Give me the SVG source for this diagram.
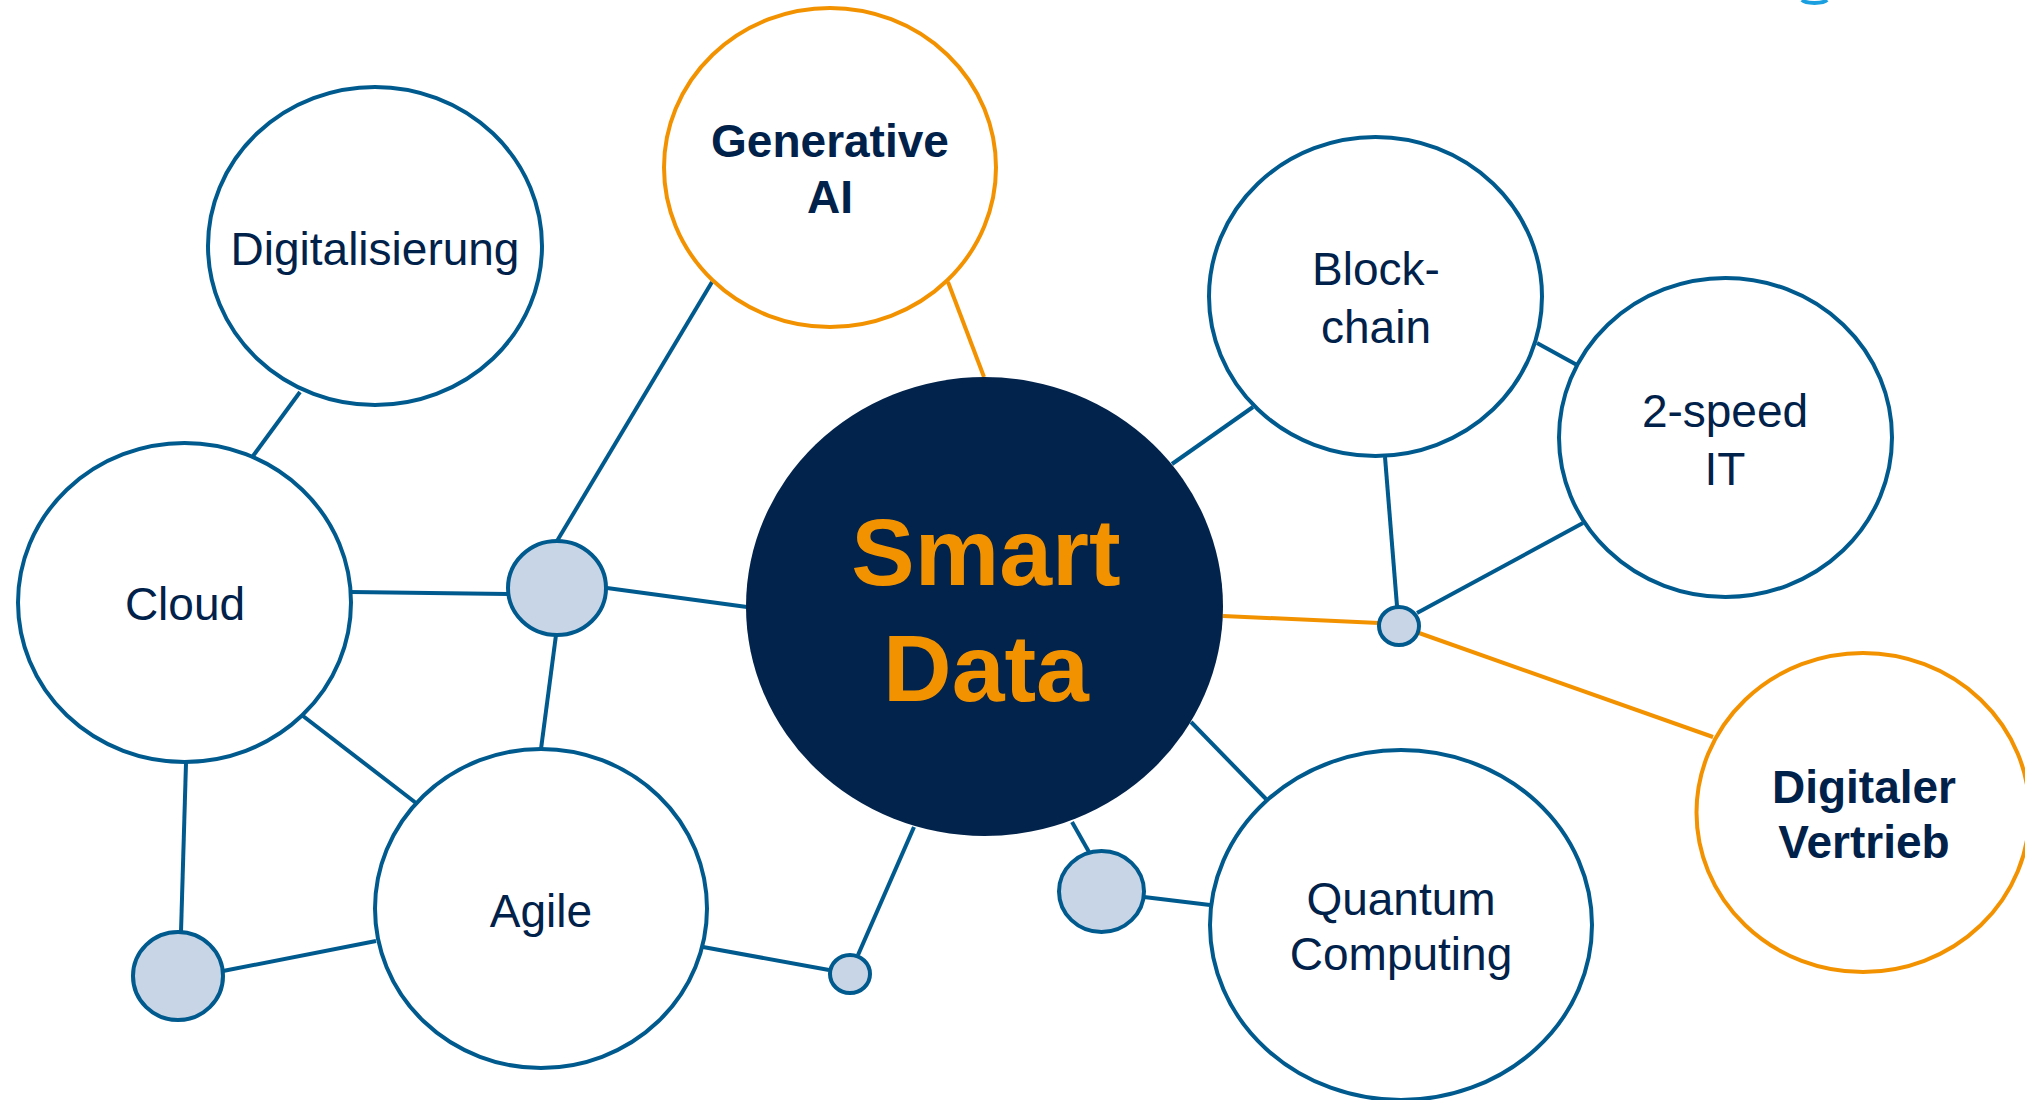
<svg xmlns="http://www.w3.org/2000/svg" width="2025" height="1100" viewBox="0 0 2025 1100">
<style>
.big{fill:#fff;stroke:#005A8E;stroke-width:4}
.org{fill:#fff;stroke:#F39200;stroke-width:4}
.dot{fill:#C8D5E6;stroke:#005A8E;stroke-width:4}
.lb{stroke:#005A8E;stroke-width:4;fill:none}
.lo{stroke:#F39200;stroke-width:4;fill:none}
.t{font-family:"Liberation Sans",Arial,sans-serif;font-size:46px;fill:#00214A;text-anchor:middle}
.tb{font-weight:bold}
.ts{font-family:"Liberation Sans",Arial,sans-serif;font-size:95px;font-weight:bold;fill:#F39200;text-anchor:middle}
</style>
<rect width="2025" height="1100" fill="#fff"/>
<path d="M1802,0 A13,4 0 0 0 1827,0" fill="none" stroke="#1AA0E0" stroke-width="4"/>
<g id="connectors">
<line class="lb" x1="300" y1="392" x2="253" y2="456"/>
<line class="lb" x1="712" y1="282" x2="557" y2="541"/>
<line class="lo" x1="948" y1="282" x2="984" y2="377"/>
<line class="lb" x1="607" y1="588" x2="747" y2="607"/>
<line class="lb" x1="351" y1="592" x2="508" y2="594"/>
<line class="lb" x1="556" y1="635" x2="541" y2="749"/>
<line class="lb" x1="303" y1="716" x2="416" y2="803"/>
<line class="lb" x1="186" y1="763" x2="181" y2="932"/>
<line class="lb" x1="376" y1="941" x2="223" y2="971"/>
<line class="lb" x1="703" y1="947" x2="829" y2="970"/>
<line class="lb" x1="858" y1="955" x2="914" y2="827"/>
<line class="lb" x1="1072" y1="822" x2="1089" y2="852"/>
<line class="lb" x1="1144" y1="897" x2="1210" y2="905"/>
<line class="lb" x1="1191" y1="722" x2="1266" y2="799"/>
<line class="lo" x1="1223" y1="616" x2="1379" y2="623"/>
<line class="lb" x1="1397" y1="606" x2="1385" y2="457"/>
<line class="lb" x1="1417" y1="613" x2="1583" y2="523"/>
<line class="lo" x1="1419" y1="633" x2="1713" y2="737"/>
<line class="lb" x1="1253" y1="407" x2="1172" y2="464"/>
<line class="lb" x1="1537" y1="343" x2="1577" y2="365"/>
</g>
<g id="node-digitalisierung"><ellipse class="big" cx="375" cy="246" rx="167" ry="159"/><text class="t" x="375" y="265">Digitalisierung</text></g>
<g id="node-generative-ai"><ellipse class="org" cx="830" cy="167.5" rx="166" ry="159.5"/><text class="t tb" x="830" y="157">Generative</text><text class="t tb" x="830" y="213">AI</text></g>
<g id="node-blockchain"><ellipse class="big" cx="1375.5" cy="296.5" rx="166.5" ry="159.5"/><text class="t" x="1376" y="285">Block-</text><text class="t" x="1376" y="343">chain</text></g>
<g id="node-2speed"><ellipse class="big" cx="1725.5" cy="437.5" rx="166.5" ry="159.5"/><text class="t" x="1725" y="427">2-speed</text><text class="t" x="1725" y="485">IT</text></g>
<g id="node-cloud"><ellipse class="big" cx="184.5" cy="602.5" rx="166.5" ry="159.5"/><text class="t" x="185" y="620">Cloud</text></g>
<g id="node-smart-data"><ellipse cx="984.5" cy="606.5" rx="238.5" ry="229.5" fill="#02234B"/><text class="ts" x="986" y="585">Smart</text><text class="ts" x="986" y="701">Data</text></g>
<g id="node-agile"><ellipse class="big" cx="541" cy="908.5" rx="166" ry="159.5"/><text class="t" x="541" y="927">Agile</text></g>
<g id="node-quantum"><ellipse class="big" cx="1401" cy="925" rx="191" ry="175"/><text class="t" x="1401" y="915">Quantum</text><text class="t" x="1401" y="970">Computing</text></g>
<g id="node-digitaler-vertrieb"><ellipse class="org" cx="1863" cy="812.5" rx="166.5" ry="159.5"/><text class="t tb" x="1864" y="803">Digitaler</text><text class="t tb" x="1864" y="858">Vertrieb</text></g>
<g id="hub-1"><ellipse class="dot" cx="557" cy="588" rx="49" ry="47"/></g>
<g id="hub-2"><ellipse class="dot" cx="178" cy="976" rx="45" ry="44"/></g>
<g id="hub-3"><ellipse class="dot" cx="850" cy="974" rx="20" ry="19"/></g>
<g id="hub-4"><ellipse class="dot" cx="1101.5" cy="891.5" rx="42.5" ry="40.5"/></g>
<g id="hub-5"><ellipse class="dot" cx="1399" cy="626" rx="20" ry="19"/></g>
</svg>
